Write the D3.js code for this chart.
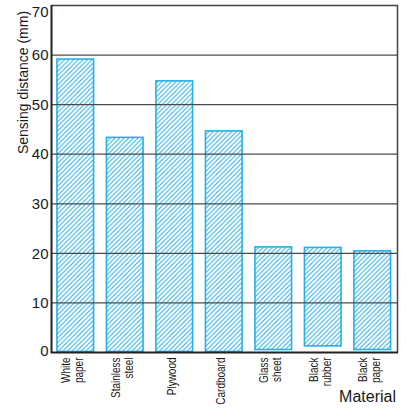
<!DOCTYPE html>
<html>
<head>
<meta charset="utf-8">
<script src="https://cdn.jsdelivr.net/npm/d3@7"></script>
<style>
  html, body { margin: 0; padding: 0; background: #fff; }
  text { font-family: "Liberation Sans", Arial, Helvetica, sans-serif; fill: #1a1a1a; }
</style>
</head>
<body>
<script>
// ---- data ----
const categories = [["White", "paper"], ["Stainless", "steel"], ["Plywood"], ["Cardboard"], ["Glass", "sheet"], ["Black", "rubber"], ["Black", "paper"]];
const topValues = [59.2, 43.4, 54.8, 44.7, 21.3, 21.2, 20.5];
const baseValues = [0.2, 0.2, 0.2, 0.2, 0.6, 1.35, 0.6];
const yTicks = [0, 10, 20, 30, 40, 50, 60, 70];
const yTitle = "Sensing distance (mm)";
const xTitle = "Material";

const W = 409, H = 409;
const pLeft = 51.5, pRight = 397.5, pTop = 5.5, pBottom = 352.5;

const svg = d3.select("body").append("svg").attr("width", W).attr("height", H);

const defs = svg.append("defs");
const P = 4.6;
const pat = defs.append("pattern").attr("id", "hatch")
  .attr("patternUnits", "userSpaceOnUse").attr("width", P).attr("height", P);
pat.append("rect").attr("width", P).attr("height", P).attr("fill", "#fff");
pat.append("path").attr("d", `M-1,1 l2,-2 M0,${P} l${P},-${P} M${P - 1},${P + 1} l2,-2`)
  .attr("stroke", "#22a9e1").attr("stroke-width", 0.95);

const x = d3.scaleBand().domain(d3.range(categories.length))
  .range([pLeft, 396]).paddingInner(0.26).paddingOuter(0.11);
const y = d3.scaleLinear().domain([0, 70]).range([pBottom, pTop]);

// bars
svg.append("g").selectAll("rect").data(topValues).join("rect")
  .attr("x", (d, i) => x(i))
  .attr("width", x.bandwidth())
  .attr("y", d => y(d))
  .attr("height", (d, i) => y(baseValues[i]) - y(d))
  .attr("fill", "url(#hatch)")
  .attr("stroke", "#25b1e6")
  .attr("stroke-width", 1.6);

// gridlines
svg.append("g").selectAll("line").data(yTicks.filter(t => t > 0 && t < 70)).join("line")
  .attr("x1", pLeft).attr("x2", pRight)
  .attr("y1", d => y(d)).attr("y2", d => y(d))
  .attr("stroke", "#4a4a4a").attr("stroke-width", 1.2);

// frame: top and right
svg.append("path")
  .attr("d", `M${pLeft},${y(70)} H${pRight} V${pBottom}`)
  .attr("fill", "none").attr("stroke", "#444").attr("stroke-width", 1.5);
// left and bottom axes
svg.append("path")
  .attr("d", `M${pLeft},${y(70) - 0.5} V${pBottom} H${pRight + 0.5}`)
  .attr("fill", "none").attr("stroke", "#222").attr("stroke-width", 2);

// y tick labels
svg.append("g").selectAll("text").data(yTicks).join("text")
  .attr("x", 48.5)
  .attr("y", d => d === 70 ? y(d) + 6 : y(d))
  .attr("dy", d => d === 0 ? "0.2em" : "0.35em")
  .attr("text-anchor", "end")
  .style("font-size", "15px")
  .text(d => d);

// y title
svg.append("text")
  .attr("transform", `translate(28,82.5) rotate(-90)`)
  .attr("text-anchor", "middle")
  .style("font-size", "14px")
  .text(yTitle);

// x category labels (rotated, condensed)
const lab = svg.append("g").selectAll("g").data(categories).join("g");
lab.each(function (lines, i) {
  const cx = x(i) + x.bandwidth() / 2;
  const n = lines.length;
  lines.forEach((ln, j) => {
    const bx = cx + (j - (n - 1) / 2) * 13 + 1.5;
    d3.select(this).append("text")
      .attr("transform", `translate(${bx},357.5) rotate(-90) scale(0.74,1)`)
      .attr("text-anchor", "end")
      .style("font-size", "13.5px")
      .text(ln);
  });
});

// x title
svg.append("text")
  .attr("x", 396).attr("y", 401.5)
  .attr("text-anchor", "end")
  .style("font-size", "16px")
  .text(xTitle);
</script>
</body>
</html>
